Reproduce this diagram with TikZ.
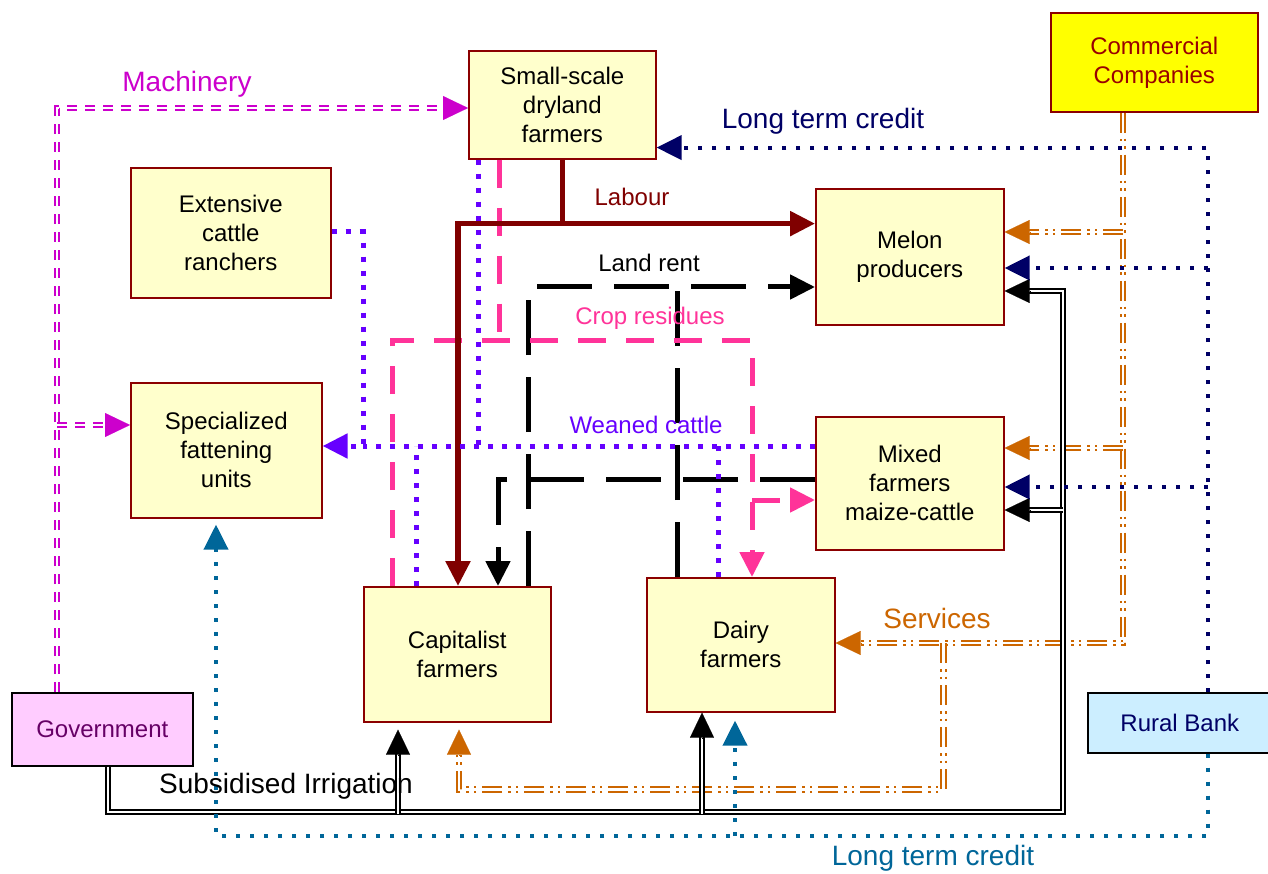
\documentclass[tikz,border=0pt]{standalone}
\usepackage{fontspec}
\setmainfont{Liberation Sans}
\usetikzlibrary{arrows.meta,calc}
\definecolor{boxfill}{HTML}{FFFFCC}
\definecolor{boxline}{HTML}{8B0000}
\definecolor{cmag}{HTML}{CC00CC}
\definecolor{cnavy}{HTML}{000066}
\definecolor{cblue}{HTML}{006699}
\definecolor{corange}{HTML}{CC6600}
\definecolor{clab}{HTML}{800000}
\definecolor{cpink}{HTML}{FF3399}
\definecolor{cpurple}{HTML}{6600FF}
\definecolor{govfill}{HTML}{FFCCFF}
\definecolor{govtext}{HTML}{660066}
\definecolor{bankfill}{HTML}{CCEEFF}
\definecolor{commfill}{HTML}{FFFF00}
\definecolor{commtext}{HTML}{990000}
\begin{document}
\begin{tikzpicture}[x=1pt,y=-1pt,
  box/.style={draw=boxline, fill=boxfill, line width=1.6pt, anchor=north west, inner sep=0pt, align=center, font=\fontsize{24}{29}\selectfont},
  lbl/.style={font=\fontsize{24}{28}\selectfont, inner sep=0pt},
  biglbl/.style={font=\fontsize{28}{32}\selectfont, inner sep=0pt},
  tip/.style={-{Triangle[length=25pt,width=24pt]}},
  tiponly/.style={line width=0.1pt, solid, -{Triangle[length=25pt,width=24pt]}},
  labour/.style={draw=clab, line width=5.5pt},
  landrent/.style={draw=black, line width=5pt, dash pattern=on 55pt off 22pt},
  crop/.style={draw=cpink, line width=5pt, dash pattern=on 28pt off 20pt},
  weaned/.style={draw=cpurple, line width=5pt, dash pattern=on 5pt off 9pt},
  credit/.style={line width=4pt, dash pattern=on 4pt off 10pt},
  mach/.style={draw=cmag, double=white, line width=2pt, double distance=2.5pt, dash pattern=on 10pt off 8pt},
  serv/.style={draw=corange, double=white, line width=2pt, double distance=2.5pt, dash pattern=on 20pt off 6pt on 2.5pt off 5pt on 2.5pt off 6pt},
  irrig/.style={draw=black, double=white, line width=1.5pt, double distance=2.5pt},
]
\useasboundingbox (0,0) rectangle (1268,874);
\fill[white] (0,0) rectangle (1268,874);

% boxes
\node[box, minimum width=187pt, minimum height=108pt] (small) at (468,50) {Small-scale\\dryland\\farmers};
\node[box, minimum width=200pt, minimum height=130pt] (ext) at (130,167) {Extensive\\cattle\\ranchers};
\node[box, minimum width=191pt, minimum height=135pt] (spec) at (130,382) {Specialized\\fattening\\units};
\node[box, fill=commfill, text=commtext, minimum width=207pt, minimum height=99pt] (comm) at (1050,12) {Commercial\\Companies};
\node[box, minimum width=188pt, minimum height=136pt] (melon) at (815,188) {Melon\\producers};
\node[box, minimum width=188pt, minimum height=133pt] (mixed) at (815,416) {Mixed\\farmers\\maize-cattle};
\node[box, minimum width=188pt, minimum height=134pt] (dairy) at (646,577) {Dairy\\farmers};
\node[box, minimum width=187pt, minimum height=135pt] (capital) at (363,586) {Capitalist\\farmers};
\node[box, draw=black, fill=govfill, text=govtext, minimum width=181pt, minimum height=73pt] (gov) at (11,692) {Government};
\node[box, draw=black, fill=bankfill, text=cnavy, minimum width=184pt, minimum height=60pt] (bank) at (1087,692) {Rural Bank};

% Land rent
\draw[landrent, tip] ($(capital.north west)+(165,0)$) |- ($(melon.north west)+(0,99)$);
\draw[landrent] ($(dairy.north west)+(31,0)$) |- ($(melon.north west)+(-85,99)$);
\draw[landrent, tip] ($(mixed.north west)+(0,63)$) -| ($(capital.north west)+(135,0)$);

% Crop residues
\coordinate (crA) at ($(small.south west)+(31,0)$);
\coordinate (crL) at ($(capital.north west)+(29,0)$);
\coordinate (crR) at ($(dairy.north west)+(106,0)$);
\draw[crop] (crA) -- (crA |- 0,340);
\draw[crop, tip] (crL) |- (crR |- 0,340) -- (crR);
\draw[crop, tip] (crR |- 0,500) -- ($(mixed.north west)+(0,84)$);

% Labour
\coordinate (labj) at ($(small.south)+(0,64)$);
\draw[labour, tip] (small.south) -- (labj) -- (labj -| melon.west);
\draw[labour, tip] (labj) -| ($(capital.north west)+(95,0)$);

% Weaned cattle
\coordinate (wc) at (363,446);
\draw[weaned] ($(mixed.north west)+(0,30)$) -- (wc);
\draw[weaned, tip] ($(ext.north east)+(0,65)$) -| (wc) -- ($(spec.north east)+(0,64)$);
\draw[weaned] ($(small.south west)+(10,0)$) -- ++(0,288);
\draw[weaned] ($(capital.north west)+(53,0)$) -- ++(0,-140);
\draw[weaned] ($(dairy.north west)+(72,0)$) -- ++(0,-131);

% Machinery
\coordinate (govT) at ($(gov.north west)+(46,0)$);
\draw[mach, shorten >=24pt] (govT) |- ($(small.north west)+(0,58)$);
\draw[tiponly, cmag] ($(small.north west)+(-25,58)$) -- ($(small.north west)+(0,58)$);
\draw[mach, shorten >=24pt] (govT |- 0,425) -- ($(spec.north west)+(0,43)$);
\draw[tiponly, cmag] ($(spec.north west)+(-25,43)$) -- ($(spec.north west)+(0,43)$);

% Services
\coordinate (commB) at ($(comm.south west)+(73,0)$);
\draw[serv, shorten >=24pt] (commB) |- ($(dairy.north east)+(0,66)$);
\draw[tiponly, corange] ($(dairy.north east)+(25,66)$) -- ($(dairy.north east)+(0,66)$);
\draw[serv, shorten >=24pt] (commB |- 0,232) -- ($(melon.north east)+(0,44)$);
\draw[tiponly, corange] ($(melon.north east)+(25,44)$) -- ($(melon.north east)+(0,44)$);
\draw[serv, shorten >=24pt] (commB |- 0,448) -- ($(mixed.north east)+(0,32)$);
\draw[tiponly, corange] ($(mixed.north east)+(25,32)$) -- ($(mixed.north east)+(0,32)$);
\draw[serv, shorten >=24pt] ($(dairy.north east)+(108,66)$) |- ($(capital.south west)+(96,67)$) -- ($(capital.south west)+(96,7)$);
\draw[tiponly, corange] ($(capital.south west)+(96,32)$) -- ($(capital.south west)+(96,7)$);

% Subsidised irrigation
\coordinate (govB) at ($(gov.south west)+(97,0)$);
\coordinate (irrR) at (1063,812);
\draw[irrig, shorten >=24pt] (govB) |- (irrR) |- ($(melon.north east)+(0,103)$);
\draw[tiponly, black] ($(melon.north east)+(25,103)$) -- ($(melon.north east)+(0,103)$);
\draw[irrig, shorten >=24pt] (irrR |- 0,510) -- ($(mixed.north east)+(0,94)$);
\draw[tiponly, black] ($(mixed.north east)+(25,94)$) -- ($(mixed.north east)+(0,94)$);
\draw[irrig, shorten >=24pt] ($(capital.south west)+(35,91)$) -- ($(capital.south west)+(35,7)$);
\draw[tiponly, black] ($(capital.south west)+(35,32)$) -- ($(capital.south west)+(35,7)$);
\draw[irrig, shorten >=24pt] ($(dairy.south west)+(56,101)$) -- ($(dairy.south west)+(56,0)$);
\draw[tiponly, black] ($(dairy.south west)+(56,25)$) -- ($(dairy.south west)+(56,0)$);

% Long term credit (navy)
\coordinate (bankT) at ($(bank.north west)+(121,0)$);
\draw[credit, draw=cnavy, tip] (bankT) |- ($(small.south east)+(0,-12)$);
\draw[credit, draw=cnavy, tip] (bankT |- 0,268) -- ($(melon.north east)+(0,80)$);
\draw[credit, draw=cnavy, tip] (bankT |- 0,487) -- ($(mixed.north east)+(0,71)$);

% Long term credit (blue)
\coordinate (bankB) at ($(bank.south west)+(121,0)$);
\draw[credit, draw=cblue, tip] (bankB) |- ($(spec.south west)+(86,317)$) -- ($(spec.south west)+(86,6)$);
\draw[credit, draw=cblue, tip] ($(dairy.south west)+(89,123)$) -- ($(dairy.south west)+(89,8)$);

% labels
\node[biglbl, text=cmag] (lmach) at (187,84) {Machinery};
\node[biglbl, text=cnavy] (lcred1) at (823,121) {Long term credit};
\node[lbl, text=clab] (llab) at (632,197) {Labour};
\node[lbl] (lland) at (649,263) {Land rent};
\node[lbl, text=cpink] (lcrop) at (650,318) {Crop residues};
\node[lbl, text=cpurple] (lwean) at (646,425) {Weaned cattle};
\node[biglbl, text=corange] (lserv) at (937,618) {Services};
\node[biglbl] (lirr) at (286,786) {Subsidised Irrigation};
\node[biglbl, text=cblue] (lcred2) at (933,858) {Long term credit};
\end{tikzpicture}
\end{document}
